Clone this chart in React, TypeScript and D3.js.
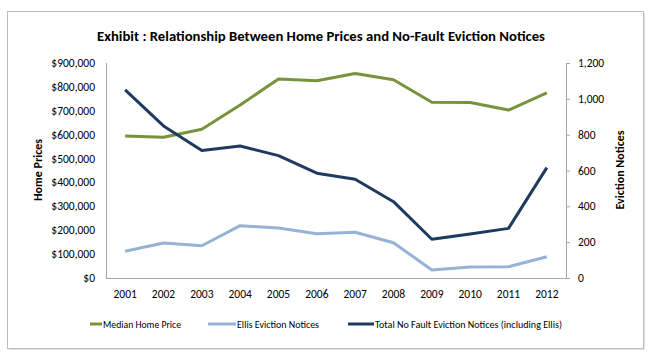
import React from "react";
import * as d3 from "d3";

const years = ["2001","2002","2003","2004","2005","2006","2007","2008","2009","2010","2011","2012"];
const medianHomePrice = [594000, 589000, 623000, 724000, 833000, 826000, 856000, 830000, 736000, 735000, 703000, 775000];
const ellisNotices = [149, 195, 180, 292, 279, 247, 255, 197, 45, 61, 63, 119];
const totalNoFault = [1050, 849, 711, 737, 683, 585, 551, 426, 216, 246, 277, 616];
const leftTicks = [0, 100000, 200000, 300000, 400000, 500000, 600000, 700000, 800000, 900000];
const rightTicks = [0, 200, 400, 600, 800, 1000, 1200];

const seriesNames = ["Median Home Price", "Ellis Eviction Notices", "Total No Fault Eviction Notices (including Ellis)"];
const colors = ["#77933C", "#95B3D7", "#1F3A5F"];

const W = 655, H = 356;
const plot = { left: 106, right: 566, top: 63, bottom: 278 };
const FONT = "Carlito, Calibri, 'Liberation Sans', Arial, sans-serif";

export default function App() {
  const x = d3.scaleBand<string>().domain(years).range([plot.left, plot.right]);
  const yL = d3.scaleLinear().domain([0, 900000]).range([plot.bottom, plot.top]);
  const yR = d3.scaleLinear().domain([0, 1200]).range([plot.bottom, plot.top]);
  const cx = (y: string) => (x(y) as number) + x.bandwidth() / 2;

  const lineL = d3.line<number>().x((_, i) => cx(years[i])).y((d) => yL(d));
  const lineR = d3.line<number>().x((_, i) => cx(years[i])).y((d) => yR(d));
  const fmtL = (v: number) => "$" + d3.format(",")(v);
  const fmtR = d3.format(",");

  const legend = [
    { name: seriesNames[0], color: colors[0], x1: 90, x2: 102, tw: 78 },
    { name: seriesNames[1], color: colors[1], x1: 208, x2: 236, tw: 82 },
    { name: seriesNames[2], color: colors[2], x1: 348, x2: 374, tw: 187 },
  ];

  return (
    <svg width={W} height={H} style={{ position: "absolute", left: 0, top: 0, background: "#fff" }} fontFamily={FONT}>
      <rect x={7.5} y={11.5} width={636} height={337} fill="#fff" stroke="#bcbcbc" strokeWidth={1} />
      <line x1={9} y1={349.5} x2={644} y2={349.5} stroke="#e2e2e2" strokeWidth={1} />
      <line x1={644.5} y1={13} x2={644.5} y2={350} stroke="#e2e2e2" strokeWidth={1} />
      <text x={321} y={41} textAnchor="middle" fontSize={13} fontWeight="bold" fill="#000" textLength={448} lengthAdjust="spacingAndGlyphs">
        Exhibit : Relationship Between Home Prices and No-Fault Eviction Notices
      </text>

      {/* axes */}
      <line x1={plot.left + 0.5} y1={plot.top} x2={plot.left + 0.5} y2={plot.bottom} stroke="#a6a6a6" strokeWidth={1} />
      <line x1={plot.right + 0.5} y1={plot.top} x2={plot.right + 0.5} y2={plot.bottom} stroke="#a6a6a6" strokeWidth={1} />
      <line x1={plot.left} y1={plot.bottom + 0.5} x2={plot.right + 1} y2={plot.bottom + 0.5} stroke="#a6a6a6" strokeWidth={1} />

      {leftTicks.map((t) => (
        <text key={"l" + t} x={95} y={yL(t) + 4} textAnchor="end" fontSize={11.5} fill="#000">{fmtL(t)}</text>
      ))}
      {rightTicks.map((t) => (
        <g key={"r" + t}>
          <line x1={plot.right} x2={plot.right + 4} y1={yR(t) + 0.5} y2={yR(t) + 0.5} stroke="#a6a6a6" />
          <text x={578} y={yR(t) + 4} textAnchor="start" fontSize={11.5} fill="#000">{fmtR(t)}</text>
        </g>
      ))}
      {years.map((yr) => (
        <text key={yr} x={cx(yr)} y={298} textAnchor="middle" fontSize={11.5} fill="#000">{yr}</text>
      ))}

      <text transform={`translate(42,170) rotate(-90)`} textAnchor="middle" fontSize={12} fontWeight="bold" fill="#000">Home Prices</text>
      <text transform={`translate(624,170) rotate(-90)`} textAnchor="middle" fontSize={12} fontWeight="bold" fill="#000">Eviction Notices</text>

      <path d={lineL(medianHomePrice) || ""} fill="none" stroke={colors[0]} strokeWidth={3} strokeLinejoin="round" />
      <path d={lineR(ellisNotices) || ""} fill="none" stroke={colors[1]} strokeWidth={3} strokeLinejoin="round" />
      <path d={lineR(totalNoFault) || ""} fill="none" stroke={colors[2]} strokeWidth={3} strokeLinejoin="round" />

      {legend.map((l) => (
        <g key={l.name}>
          <line x1={l.x1} x2={l.x2} y1={324} y2={324} stroke={l.color} strokeWidth={3} />
          <text x={l.x2 + 1} y={327.5} fontSize={10.5} fill="#000" textLength={l.tw} lengthAdjust="spacingAndGlyphs">{l.name}</text>
        </g>
      ))}
    </svg>
  );
}
